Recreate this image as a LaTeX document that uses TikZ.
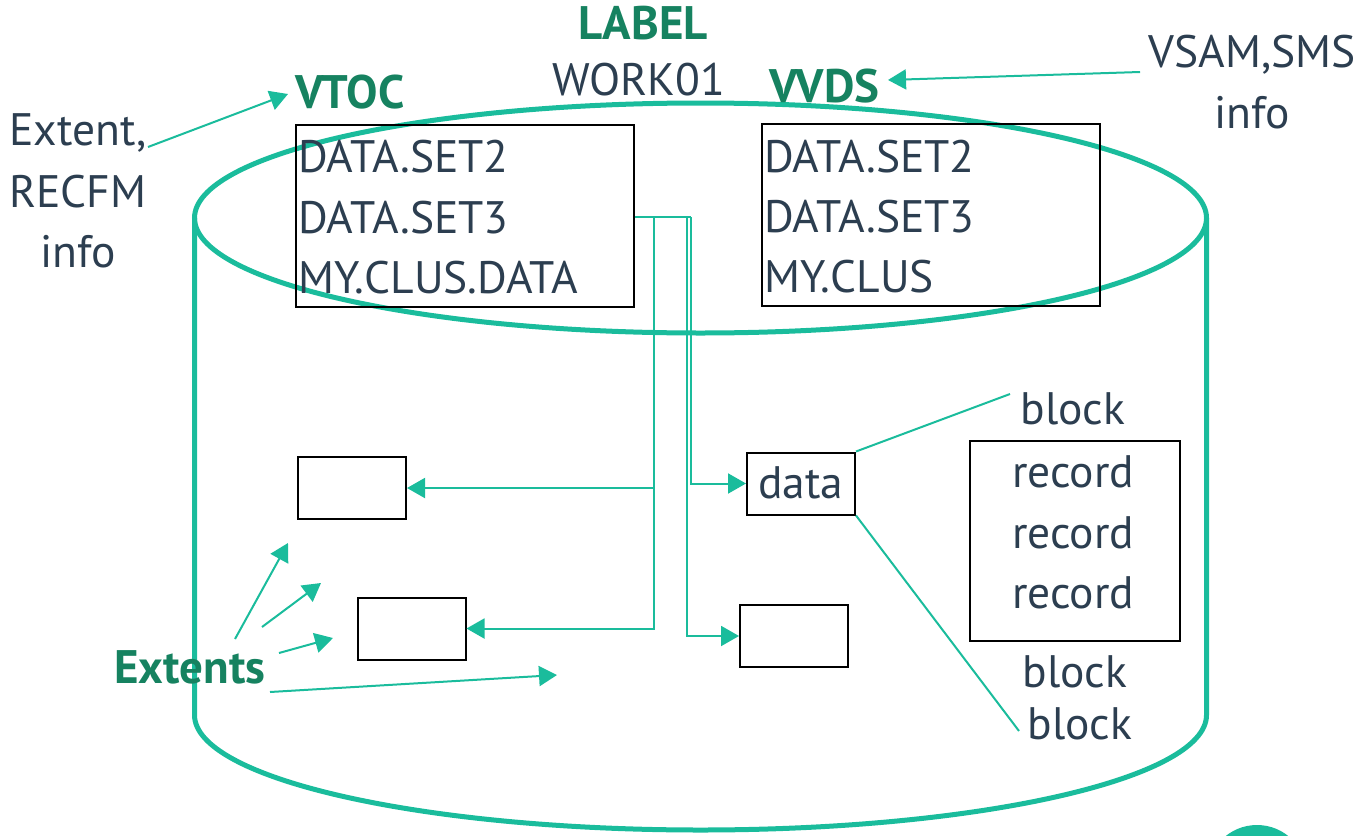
\documentclass[tikz,border=0pt]{standalone}
\usepackage{fontspec}
\setmainfont{PT Sans}
\usetikzlibrary{arrows.meta}
\definecolor{tealc}{RGB}{26,188,156}
\definecolor{dkgreen}{RGB}{22,130,96}
\definecolor{txtc}{RGB}{44,62,80}
\begin{document}
\begin{tikzpicture}[x=1pt,y=-1pt,
  t/.style={inner sep=0, text=txtc, font=\fontsize{45.5}{50}\selectfont, anchor=base},
  tw/.style={t, anchor=base west},
  lbl/.style={inner sep=0, text=dkgreen, font=\fontsize{47}{50}\selectfont\bfseries, anchor=base},
  bx/.style={draw=black, line width=2pt, inner sep=0, minimum width=108pt, minimum height=62pt},
  conn/.style={draw=tealc, line width=2pt, -{Triangle[length=18pt,width=20pt]}},
  plain/.style={draw=tealc, line width=2pt},
  cyl/.style={draw=tealc, line width=5pt}]
\useasboundingbox (0,0) rectangle (1364,835);
\clip (0,0) rectangle (1364,835);
% cylinder
\draw[cyl] (700.5,218) ellipse [x radius=506, y radius=115];
\draw[cyl] (194.5,218) -- (194.5,715) arc[start angle=180, end angle=0, x radius=506, y radius=115] -- (1206.5,218);
% circle bottom right
\fill[tealc] (1257,875) circle (50);
% top labels
\node[lbl] (label) at (643,39) {LABEL};
\node[t] (work) at (639,95) {WORK01};
\node[lbl, anchor=base west] (vtoc) at (295,108) {VTOC};
\node[lbl, anchor=base west] (vvds) at (769,102) {VVDS};
\node[t] (ext1) at (78,145) {Extent,};
\node[t] (ext2) at (78,207) {RECFM};
\node[t] (ext3) at (78,267) {info};
\node[t] (vs1) at (1252,67) {VSAM,SMS};
\node[t] (vs2) at (1252,128) {info};
% boxes
\node[bx, minimum width=338pt, minimum height=182pt] (vtocbox) at (465,216) {};
\node[bx, minimum width=338pt, minimum height=182pt] (vvdsbox) at (931,215) {};
\node[tw] (a1) at (298,172) {DATA.SET2};
\node[tw] (a2) at (298,233) {DATA.SET3};
\node[tw] (a3) at (298,293) {MY.CLUS.DATA};
\node[tw] (b1) at (764,172) {DATA.SET2};
\node[tw] (b2) at (764,232) {DATA.SET3};
\node[tw] (b3) at (764,292) {MY.CLUS};
\node[bx] (box1) at (352,488) {};
\node[bx] (box2) at (411.5,628.5) {};
\node[bx] (databox) at (801,483.5) {};
\node[t] (data) at (801,498) {data};
\node[bx] (box4) at (794,636) {};
\node[bx, minimum width=210pt, minimum height=200pt] (recbox) at (1075,541) {};
\node[t] (r1) at (1073,487) {record};
\node[t] (r2) at (1073,548) {record};
\node[t] (r3) at (1073,608) {record};
\node[t] (bl1) at (1073,424) {block};
\node[t] (bl2) at (1075,687) {block};
\node[t] (bl3) at (1080,739) {block};
\node[lbl] (extents) at (190,683) {Extents};
% arrows to VTOC / VVDS
\coordinate (e0) at (148,147);
\coordinate (vtip) at (288,94);
\draw[conn] (e0) -- (vtip);
\coordinate (v0) at (1140,72);
\coordinate (vvtip) at (888,80);
\draw[conn] (v0) -- (vvtip);
% connectors from VTOC
\coordinate (j) at (vtocbox.east |- 0,217);
\draw[plain] (j) -- (691,217);
\draw[conn] (691,217) |- (databox.west);
\draw[conn] (687,217) |- (box4.west);
\draw[conn] (654,217) |- (box2.east);
\draw[conn] (654,488) -- (box1.east);
% data lines
\coordinate (bk1) at (1010,394);
\coordinate (bk3) at (1019,731);
\draw[plain] (databox.north east) -- (bk1);
\draw[plain] (databox.south east) -- (bk3);
% extents arrows
\coordinate (x1s) at (235,639); \coordinate (x1e) at (288,543);
\coordinate (x2s) at (262,627); \coordinate (x2e) at (321,583);
\coordinate (x3s) at (279,653); \coordinate (x3e) at (333,638);
\coordinate (x4s) at (270,692); \coordinate (x4e) at (557,675);
\draw[conn] (x1s) -- (x1e);
\draw[conn] (x2s) -- (x2e);
\draw[conn] (x3s) -- (x3e);
\draw[conn] (x4s) -- (x4e);
\end{tikzpicture}
\end{document}
